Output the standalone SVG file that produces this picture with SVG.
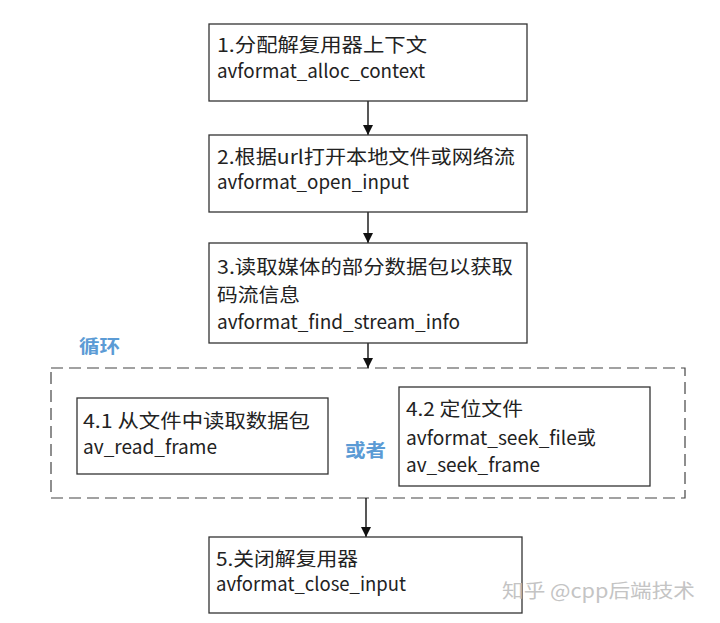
<svg xmlns="http://www.w3.org/2000/svg" width="720" height="623" viewBox="0 0 720 623">
<defs>
<style>
.box{fill:#fff;stroke:#333;stroke-width:1.3}
.t{font-family:"Noto Sans CJK SC","Noto Sans",sans-serif;font-size:19px;fill:#222}
.b{font-family:"Noto Sans CJK SC","Noto Sans",sans-serif;font-size:18px;font-weight:bold;fill:#5b9bd5}
.w{font-family:"Noto Sans CJK SC","Noto Sans",sans-serif;font-size:19px;fill:#c4c4c4}
.line{stroke:#111;stroke-width:1.4;fill:none}
</style>
<marker id="ah" viewBox="0 0 10 10" refX="10" refY="5" markerWidth="10" markerHeight="10" markerUnits="userSpaceOnUse" orient="auto">
<path d="M0,0 L10,5 L0,10 z" fill="#111"/>
</marker>
</defs>
<rect width="720" height="623" fill="#fff"/>
<g id="loop">
<rect x="51" y="368" width="634" height="130" fill="none" stroke="#444" stroke-width="1.2" stroke-dasharray="12,6"/>
<text class="b" x="79" y="353" textLength="41" lengthAdjust="spacingAndGlyphs">循环</text>
<text class="b" x="345" y="457" textLength="41" lengthAdjust="spacingAndGlyphs">或者</text>
</g>
<g id="connectors">
<line class="line" x1="368" y1="101" x2="368" y2="135" marker-end="url(#ah)"/>
<line class="line" x1="368" y1="212" x2="368" y2="243" marker-end="url(#ah)"/>
<line class="line" x1="368" y1="343" x2="368" y2="368" marker-end="url(#ah)"/>
<line class="line" x1="366" y1="498" x2="366" y2="537" marker-end="url(#ah)"/>
</g>
<g id="n1">
<rect class="box" x="209" y="24" width="318" height="77"/>
<text class="t" x="217" y="52" textLength="210" lengthAdjust="spacingAndGlyphs">1.分配解复用器上下文</text>
<text class="t" x="217" y="78" textLength="208" lengthAdjust="spacingAndGlyphs">avformat_alloc_context</text>
</g>
<g id="n2">
<rect class="box" x="209" y="135" width="318" height="77"/>
<text class="t" x="217" y="164" textLength="298" lengthAdjust="spacingAndGlyphs">2.根据url打开本地文件或网络流</text>
<text class="t" x="217" y="189" textLength="192" lengthAdjust="spacingAndGlyphs">avformat_open_input</text>
</g>
<g id="n3">
<rect class="box" x="209" y="243" width="318" height="100"/>
<text class="t" x="217" y="274" textLength="296" lengthAdjust="spacingAndGlyphs">3.读取媒体的部分数据包以获取</text>
<text class="t" x="217" y="302" textLength="83" lengthAdjust="spacingAndGlyphs">码流信息</text>
<text class="t" x="217" y="329" textLength="243" lengthAdjust="spacingAndGlyphs">avformat_find_stream_info</text>
</g>
<g id="n41">
<rect class="box" x="77" y="398" width="251" height="76"/>
<text class="t" x="83" y="428" textLength="227" lengthAdjust="spacingAndGlyphs">4.1 从文件中读取数据包</text>
<text class="t" x="83" y="454" textLength="134" lengthAdjust="spacingAndGlyphs">av_read_frame</text>
</g>
<g id="n42">
<rect class="box" x="399" y="387" width="251" height="99"/>
<text class="t" x="406" y="416" textLength="117" lengthAdjust="spacingAndGlyphs">4.2 定位文件</text>
<text class="t" x="406" y="445" textLength="190" lengthAdjust="spacingAndGlyphs">avformat_seek_file或</text>
<text class="t" x="406" y="472" textLength="134" lengthAdjust="spacingAndGlyphs">av_seek_frame</text>
</g>
<g id="n5">
<rect class="box" x="209" y="537" width="313" height="76"/>
<text class="t" x="216" y="566" textLength="142" lengthAdjust="spacingAndGlyphs">5.关闭解复用器</text>
<text class="t" x="216" y="591" textLength="190" lengthAdjust="spacingAndGlyphs">avformat_close_input</text>
</g>
<text class="w" x="502" y="598" textLength="193" lengthAdjust="spacingAndGlyphs">知乎 @cpp后端技术</text>
</svg>
